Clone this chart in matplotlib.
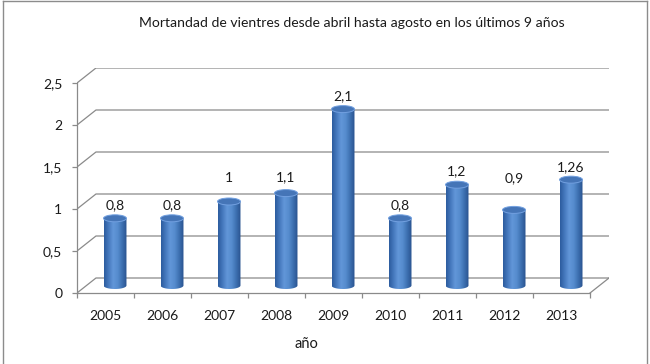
import numpy as np
import matplotlib.pyplot as plt
from matplotlib.patches import Ellipse, Polygon
from matplotlib.colors import LinearSegmentedColormap
from matplotlib.lines import Line2D
from matplotlib.ticker import NullFormatter

plt.rcParams['font.family'] = ['Lato', 'DejaVu Sans']

# datos
years = ["2005", "2006", "2007", "2008", "2009", "2010", "2011", "2012", "2013"]
deaths = [0.8, 0.8, 1.0, 1.1, 2.1, 0.8, 1.2, 0.9, 1.26]
value_labels = ["0,8", "0,8", "1", "1,1", "2,1", "0,8", "1,2", "0,9", "1,26"]
y_ticks = [0, 0.5, 1, 1.5, 2, 2.5]
y_tick_labels = ["0", "0,5", "1", "1,5", "2", "2,5"]

# desplazamiento vertical de cada etiqueta (px sobre la tapa)
label_lift_px = [13, 13, 23, 16, 13, 13, 14, 32, 13]

# geometria del falso 3D (px por unidad)
PX_X = 57.1
PX_Y = 84.0
DX = 19 / PX_X
DY = 15 / PX_Y
BAR_W = 23 / PX_X
ELL_H = 7 / PX_Y

grid_c = '#8a8a8a'
text_c = '#1a1a1a'
cyl_cmap = LinearSegmentedColormap.from_list(
    'cyl', ['#2c5c9e', '#4679be', '#6297d9', '#568cce', '#3d70b1', '#29528e'])

fig = plt.figure(figsize=(6.5, 3.64), dpi=100)
ax = fig.add_axes([77 / 650, 71 / 364, 532 / 650, 225 / 364])

# pared del fondo y suelo
for v in y_ticks:
    ax.plot([0, DX, len(years) + DX], [v + 0, v + DY, v + DY], color=grid_c, lw=0.9, zorder=1)
ax.plot([len(years), len(years) + DX], [0, DY], color=grid_c, lw=0.9, zorder=1)

grad = np.linspace(0, 1, 64).reshape(1, -1)
for i, v in enumerate(deaths):
    cx = i + 0.5 + DX / 2
    base = DY / 2
    top = v + DY / 2
    t = np.linspace(np.pi, 2 * np.pi, 40)
    arc = np.column_stack([cx + BAR_W / 2 * np.cos(t), base + ELL_H / 2 * np.sin(t)])
    verts = np.vstack([[cx - BAR_W / 2, top], arc, [cx + BAR_W / 2, top]])
    body = Polygon(verts, closed=True, facecolor='none', edgecolor='none')
    ax.add_patch(body)
    im = ax.imshow(grad, cmap=cyl_cmap, extent=[cx - BAR_W / 2, cx + BAR_W / 2, base - ELL_H, top],
                   aspect='auto', interpolation='bicubic', zorder=3)
    im.set_clip_path(body)
    ax.add_patch(Ellipse((cx, top), BAR_W, ELL_H, facecolor='#4575b7', edgecolor='#72a0e0',
                         lw=0.7, zorder=4))
    ax.text(cx, top + label_lift_px[i] / PX_Y, value_labels[i], ha='center', va='center',
            fontsize=10, color=text_c, zorder=5)

ax.set_xlim(0, len(years) + DX)
ax.set_ylim(0, 2.5 + DY)
ax.set_aspect('auto')

for s in ['top', 'right']:
    ax.spines[s].set_visible(False)
ax.spines['left'].set_bounds(0, 2.5)
ax.spines['bottom'].set_bounds(0, len(years))
for s in ['left', 'bottom']:
    ax.spines[s].set_color(grid_c)
    ax.spines[s].set_linewidth(0.9)

ax.set_yticks(y_ticks, y_tick_labels)
ax.tick_params(axis='y', direction='out', length=3.6, width=0.9, color=grid_c, pad=7,
               labelsize=10, labelcolor=text_c)
ax.set_xticks(range(len(years) + 1))
ax.xaxis.set_major_formatter(NullFormatter())
ax.set_xticks(np.arange(len(years)) + 0.5, years, minor=True)
ax.tick_params(axis='x', which='major', direction='out', length=3.6, width=0.9, color=grid_c)
ax.tick_params(axis='x', which='minor', length=0, pad=12, labelsize=10, labelcolor=text_c)

fig.text(352 / 650, 1 - 23 / 364, 'Mortandad de vientres desde abril hasta agosto en los últimos 9 años',
         ha='center', va='center', fontsize=10.1, color=text_c)
fig.text(306 / 650, 1 - 344 / 364, 'año', ha='center', va='center', fontsize=10.5, color=text_c)

# marco del grafico
for xs, ys in [([0.004, 0.004], [0, 0.997]), ([0.004, 0.996], [0.997, 0.997]), ([0.996, 0.996], [0, 0.997])]:
    fig.add_artist(Line2D(xs, ys, transform=fig.transFigure, color='#8c8c8c', lw=1.0))

fig.savefig('out.png', dpi=100)
